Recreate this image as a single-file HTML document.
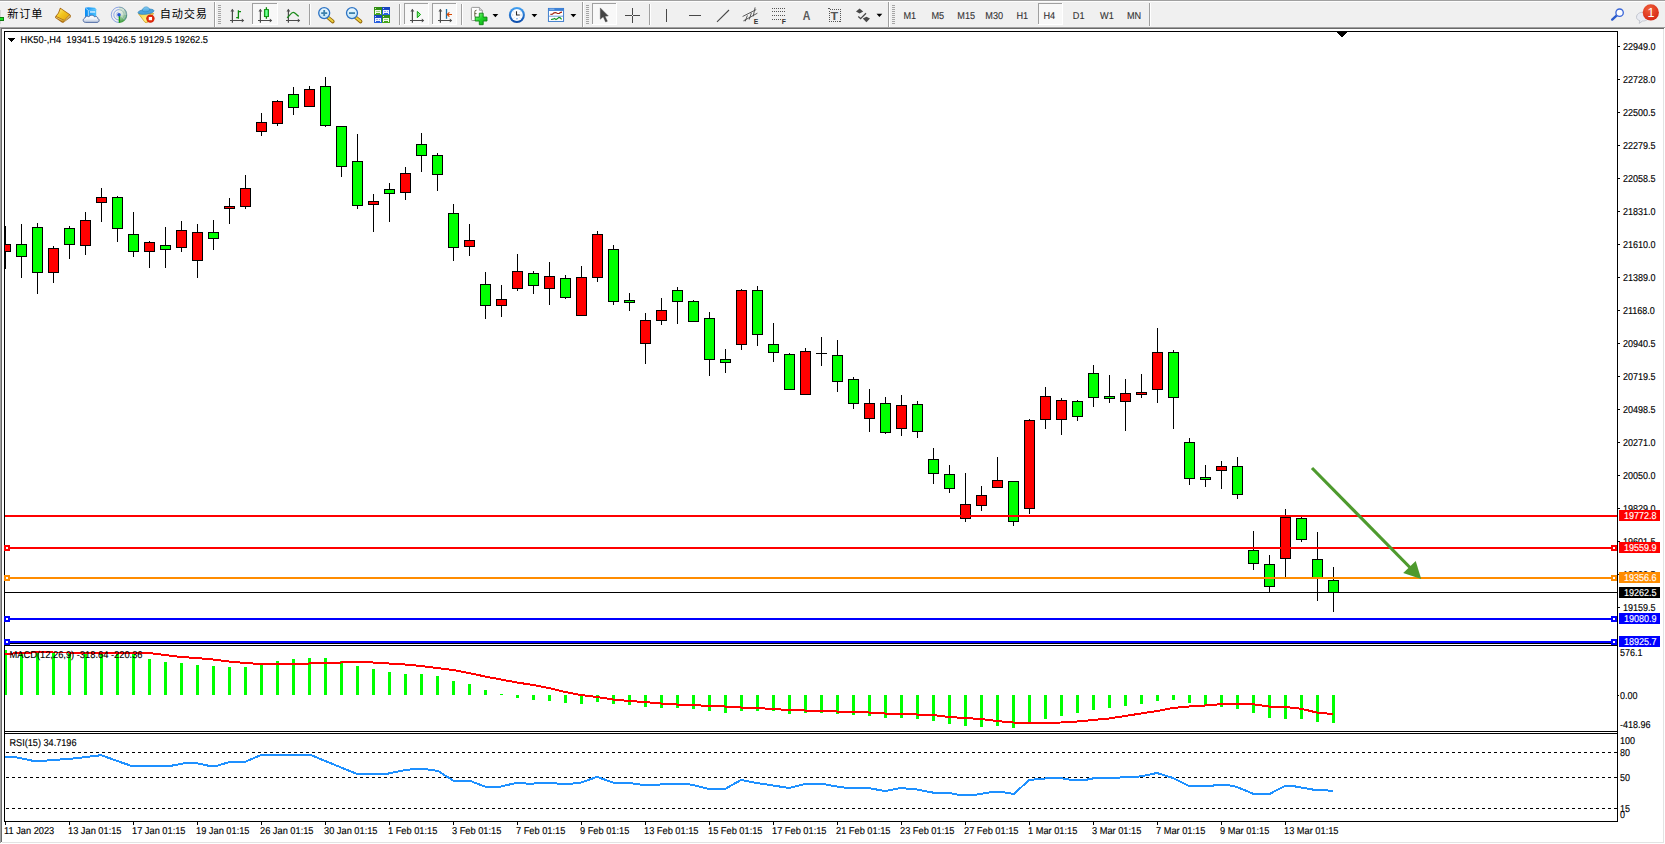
<!DOCTYPE html>
<html lang="zh">
<head>
<meta charset="utf-8">
<title>HK50-,H4</title>
<style>
html,body{margin:0;padding:0;background:#ffffff;}
body{width:1665px;height:844px;overflow:hidden;font-family:"Liberation Sans","Noto Sans CJK SC",sans-serif;}
svg{display:block;}
text{white-space:pre;}
</style>
</head>
<body>
<svg width="1665" height="844" viewBox="0 0 1665 844">
<g shape-rendering="crispEdges">
<rect x="0" y="0" width="1665" height="844" fill="#ffffff"/>
<rect x="0" y="0" width="1665" height="1" fill="#a0a0a0"/>
<rect x="0" y="1" width="1665" height="1" fill="#fdfdfd"/>
<rect x="0" y="2" width="1665" height="25" fill="#f0f0f0"/>
<rect x="0" y="27" width="1665" height="1" fill="#a0a0a0"/>
<rect x="1" y="28" width="1663" height="1" fill="#696969"/>
<rect x="0" y="27" width="1" height="816" fill="#a0a0a0"/>
<rect x="1" y="28" width="1" height="814" fill="#696969"/>
<rect x="1663" y="29" width="1" height="814" fill="#e3e3e3"/>
<rect x="2" y="842" width="1662" height="1" fill="#e3e3e3"/>
<rect x="4" y="31" width="1" height="791" fill="#000"/>
<rect x="4" y="31" width="1614" height="1" fill="#000"/>
<rect x="1617" y="31" width="1" height="791" fill="#000"/>
<rect x="4" y="643" width="1614" height="1" fill="#000"/>
<rect x="4" y="645" width="1614" height="1" fill="#000"/>
<rect x="4" y="731" width="1614" height="1" fill="#000"/>
<rect x="4" y="733" width="1614" height="1" fill="#000"/>
<rect x="4" y="821" width="1614" height="1" fill="#000"/>
</g>
<defs><clipPath id="cm"><rect x="5" y="32" width="1612" height="611"/></clipPath><clipPath id="cd"><rect x="5" y="646" width="1612" height="85"/></clipPath></defs>
<g shape-rendering="crispEdges" clip-path="url(#cm)">
<rect x="5" y="226" width="1" height="43" fill="#000"/>
<rect x="0" y="244" width="11" height="8" fill="#000"/>
<rect x="1" y="245" width="9" height="6" fill="#ff0000"/>
<rect x="21" y="224" width="1" height="54" fill="#000"/>
<rect x="16" y="244" width="11" height="13" fill="#000"/>
<rect x="17" y="245" width="9" height="11" fill="#00ff00"/>
<rect x="37" y="223" width="1" height="71" fill="#000"/>
<rect x="32" y="227" width="11" height="46" fill="#000"/>
<rect x="33" y="228" width="9" height="44" fill="#00ff00"/>
<rect x="53" y="246" width="1" height="37" fill="#000"/>
<rect x="48" y="248" width="11" height="25" fill="#000"/>
<rect x="49" y="249" width="9" height="23" fill="#ff0000"/>
<rect x="69" y="226" width="1" height="33" fill="#000"/>
<rect x="64" y="228" width="11" height="17" fill="#000"/>
<rect x="65" y="229" width="9" height="15" fill="#00ff00"/>
<rect x="85" y="212" width="1" height="43" fill="#000"/>
<rect x="80" y="220" width="11" height="26" fill="#000"/>
<rect x="81" y="221" width="9" height="24" fill="#ff0000"/>
<rect x="101" y="188" width="1" height="34" fill="#000"/>
<rect x="96" y="197" width="11" height="6" fill="#000"/>
<rect x="97" y="198" width="9" height="4" fill="#ff0000"/>
<rect x="117" y="196" width="1" height="46" fill="#000"/>
<rect x="112" y="197" width="11" height="32" fill="#000"/>
<rect x="113" y="198" width="9" height="30" fill="#00ff00"/>
<rect x="133" y="212" width="1" height="45" fill="#000"/>
<rect x="128" y="234" width="11" height="18" fill="#000"/>
<rect x="129" y="235" width="9" height="16" fill="#00ff00"/>
<rect x="149" y="241" width="1" height="27" fill="#000"/>
<rect x="144" y="242" width="11" height="10" fill="#000"/>
<rect x="145" y="243" width="9" height="8" fill="#ff0000"/>
<rect x="165" y="227" width="1" height="41" fill="#000"/>
<rect x="160" y="245" width="11" height="5" fill="#000"/>
<rect x="161" y="246" width="9" height="3" fill="#00ff00"/>
<rect x="181" y="221" width="1" height="31" fill="#000"/>
<rect x="176" y="230" width="11" height="18" fill="#000"/>
<rect x="177" y="231" width="9" height="16" fill="#ff0000"/>
<rect x="197" y="224" width="1" height="54" fill="#000"/>
<rect x="192" y="232" width="11" height="29" fill="#000"/>
<rect x="193" y="233" width="9" height="27" fill="#ff0000"/>
<rect x="213" y="220" width="1" height="30" fill="#000"/>
<rect x="208" y="232" width="11" height="7" fill="#000"/>
<rect x="209" y="233" width="9" height="5" fill="#00ff00"/>
<rect x="229" y="198" width="1" height="26" fill="#000"/>
<rect x="224" y="206" width="11" height="3" fill="#000"/>
<rect x="225" y="207" width="9" height="1" fill="#ff0000"/>
<rect x="245" y="175" width="1" height="34" fill="#000"/>
<rect x="240" y="188" width="11" height="19" fill="#000"/>
<rect x="241" y="189" width="9" height="17" fill="#ff0000"/>
<rect x="261" y="113" width="1" height="23" fill="#000"/>
<rect x="256" y="122" width="11" height="10" fill="#000"/>
<rect x="257" y="123" width="9" height="8" fill="#ff0000"/>
<rect x="277" y="100" width="1" height="26" fill="#000"/>
<rect x="272" y="101" width="11" height="23" fill="#000"/>
<rect x="273" y="102" width="9" height="21" fill="#ff0000"/>
<rect x="293" y="87" width="1" height="28" fill="#000"/>
<rect x="288" y="94" width="11" height="14" fill="#000"/>
<rect x="289" y="95" width="9" height="12" fill="#00ff00"/>
<rect x="309" y="86" width="1" height="21" fill="#000"/>
<rect x="304" y="89" width="11" height="18" fill="#000"/>
<rect x="305" y="90" width="9" height="16" fill="#ff0000"/>
<rect x="325" y="77" width="1" height="50" fill="#000"/>
<rect x="320" y="86" width="11" height="40" fill="#000"/>
<rect x="321" y="87" width="9" height="38" fill="#00ff00"/>
<rect x="341" y="126" width="1" height="51" fill="#000"/>
<rect x="336" y="126" width="11" height="41" fill="#000"/>
<rect x="337" y="127" width="9" height="39" fill="#00ff00"/>
<rect x="357" y="134" width="1" height="75" fill="#000"/>
<rect x="352" y="161" width="11" height="45" fill="#000"/>
<rect x="353" y="162" width="9" height="43" fill="#00ff00"/>
<rect x="373" y="194" width="1" height="38" fill="#000"/>
<rect x="368" y="201" width="11" height="4" fill="#000"/>
<rect x="369" y="202" width="9" height="2" fill="#ff0000"/>
<rect x="389" y="183" width="1" height="39" fill="#000"/>
<rect x="384" y="189" width="11" height="5" fill="#000"/>
<rect x="385" y="190" width="9" height="3" fill="#00ff00"/>
<rect x="405" y="167" width="1" height="33" fill="#000"/>
<rect x="400" y="173" width="11" height="20" fill="#000"/>
<rect x="401" y="174" width="9" height="18" fill="#ff0000"/>
<rect x="421" y="133" width="1" height="39" fill="#000"/>
<rect x="416" y="144" width="11" height="12" fill="#000"/>
<rect x="417" y="145" width="9" height="10" fill="#00ff00"/>
<rect x="437" y="153" width="1" height="38" fill="#000"/>
<rect x="432" y="155" width="11" height="20" fill="#000"/>
<rect x="433" y="156" width="9" height="18" fill="#00ff00"/>
<rect x="453" y="204" width="1" height="57" fill="#000"/>
<rect x="448" y="213" width="11" height="35" fill="#000"/>
<rect x="449" y="214" width="9" height="33" fill="#00ff00"/>
<rect x="469" y="224" width="1" height="32" fill="#000"/>
<rect x="464" y="240" width="11" height="7" fill="#000"/>
<rect x="465" y="241" width="9" height="5" fill="#ff0000"/>
<rect x="485" y="272" width="1" height="47" fill="#000"/>
<rect x="480" y="284" width="11" height="22" fill="#000"/>
<rect x="481" y="285" width="9" height="20" fill="#00ff00"/>
<rect x="501" y="285" width="1" height="32" fill="#000"/>
<rect x="496" y="299" width="11" height="7" fill="#000"/>
<rect x="497" y="300" width="9" height="5" fill="#ff0000"/>
<rect x="517" y="254" width="1" height="37" fill="#000"/>
<rect x="512" y="271" width="11" height="18" fill="#000"/>
<rect x="513" y="272" width="9" height="16" fill="#ff0000"/>
<rect x="533" y="271" width="1" height="23" fill="#000"/>
<rect x="528" y="273" width="11" height="13" fill="#000"/>
<rect x="529" y="274" width="9" height="11" fill="#00ff00"/>
<rect x="549" y="262" width="1" height="43" fill="#000"/>
<rect x="544" y="276" width="11" height="13" fill="#000"/>
<rect x="545" y="277" width="9" height="11" fill="#ff0000"/>
<rect x="565" y="275" width="1" height="24" fill="#000"/>
<rect x="560" y="278" width="11" height="20" fill="#000"/>
<rect x="561" y="279" width="9" height="18" fill="#00ff00"/>
<rect x="581" y="266" width="1" height="50" fill="#000"/>
<rect x="576" y="277" width="11" height="39" fill="#000"/>
<rect x="577" y="278" width="9" height="37" fill="#ff0000"/>
<rect x="597" y="231" width="1" height="51" fill="#000"/>
<rect x="592" y="234" width="11" height="44" fill="#000"/>
<rect x="593" y="235" width="9" height="42" fill="#ff0000"/>
<rect x="613" y="245" width="1" height="60" fill="#000"/>
<rect x="608" y="249" width="11" height="53" fill="#000"/>
<rect x="609" y="250" width="9" height="51" fill="#00ff00"/>
<rect x="629" y="293" width="1" height="18" fill="#000"/>
<rect x="624" y="300" width="11" height="3" fill="#000"/>
<rect x="625" y="301" width="9" height="1" fill="#00ff00"/>
<rect x="645" y="313" width="1" height="51" fill="#000"/>
<rect x="640" y="320" width="11" height="24" fill="#000"/>
<rect x="641" y="321" width="9" height="22" fill="#ff0000"/>
<rect x="661" y="298" width="1" height="27" fill="#000"/>
<rect x="656" y="310" width="11" height="11" fill="#000"/>
<rect x="657" y="311" width="9" height="9" fill="#ff0000"/>
<rect x="677" y="287" width="1" height="37" fill="#000"/>
<rect x="672" y="290" width="11" height="12" fill="#000"/>
<rect x="673" y="291" width="9" height="10" fill="#00ff00"/>
<rect x="693" y="300" width="1" height="22" fill="#000"/>
<rect x="688" y="301" width="11" height="21" fill="#000"/>
<rect x="689" y="302" width="9" height="19" fill="#00ff00"/>
<rect x="709" y="312" width="1" height="64" fill="#000"/>
<rect x="704" y="318" width="11" height="42" fill="#000"/>
<rect x="705" y="319" width="9" height="40" fill="#00ff00"/>
<rect x="725" y="349" width="1" height="24" fill="#000"/>
<rect x="720" y="359" width="11" height="4" fill="#000"/>
<rect x="721" y="360" width="9" height="2" fill="#00ff00"/>
<rect x="741" y="289" width="1" height="61" fill="#000"/>
<rect x="736" y="290" width="11" height="55" fill="#000"/>
<rect x="737" y="291" width="9" height="53" fill="#ff0000"/>
<rect x="757" y="286" width="1" height="60" fill="#000"/>
<rect x="752" y="290" width="11" height="45" fill="#000"/>
<rect x="753" y="291" width="9" height="43" fill="#00ff00"/>
<rect x="773" y="323" width="1" height="39" fill="#000"/>
<rect x="768" y="344" width="11" height="9" fill="#000"/>
<rect x="769" y="345" width="9" height="7" fill="#00ff00"/>
<rect x="789" y="353" width="1" height="37" fill="#000"/>
<rect x="784" y="354" width="11" height="36" fill="#000"/>
<rect x="785" y="355" width="9" height="34" fill="#00ff00"/>
<rect x="805" y="348" width="1" height="47" fill="#000"/>
<rect x="800" y="351" width="11" height="44" fill="#000"/>
<rect x="801" y="352" width="9" height="42" fill="#ff0000"/>
<rect x="821" y="337" width="1" height="29" fill="#000"/>
<rect x="816" y="353" width="11" height="1" fill="#000"/>
<rect x="837" y="340" width="1" height="52" fill="#000"/>
<rect x="832" y="355" width="11" height="27" fill="#000"/>
<rect x="833" y="356" width="9" height="25" fill="#00ff00"/>
<rect x="853" y="377" width="1" height="32" fill="#000"/>
<rect x="848" y="379" width="11" height="25" fill="#000"/>
<rect x="849" y="380" width="9" height="23" fill="#00ff00"/>
<rect x="869" y="389" width="1" height="43" fill="#000"/>
<rect x="864" y="403" width="11" height="16" fill="#000"/>
<rect x="865" y="404" width="9" height="14" fill="#ff0000"/>
<rect x="885" y="397" width="1" height="37" fill="#000"/>
<rect x="880" y="403" width="11" height="30" fill="#000"/>
<rect x="881" y="404" width="9" height="28" fill="#00ff00"/>
<rect x="901" y="395" width="1" height="41" fill="#000"/>
<rect x="896" y="405" width="11" height="24" fill="#000"/>
<rect x="897" y="406" width="9" height="22" fill="#ff0000"/>
<rect x="917" y="401" width="1" height="37" fill="#000"/>
<rect x="912" y="404" width="11" height="28" fill="#000"/>
<rect x="913" y="405" width="9" height="26" fill="#00ff00"/>
<rect x="933" y="448" width="1" height="36" fill="#000"/>
<rect x="928" y="459" width="11" height="15" fill="#000"/>
<rect x="929" y="460" width="9" height="13" fill="#00ff00"/>
<rect x="949" y="465" width="1" height="28" fill="#000"/>
<rect x="944" y="474" width="11" height="15" fill="#000"/>
<rect x="945" y="475" width="9" height="13" fill="#00ff00"/>
<rect x="965" y="473" width="1" height="49" fill="#000"/>
<rect x="960" y="504" width="11" height="15" fill="#000"/>
<rect x="961" y="505" width="9" height="13" fill="#ff0000"/>
<rect x="981" y="486" width="1" height="25" fill="#000"/>
<rect x="976" y="495" width="11" height="11" fill="#000"/>
<rect x="977" y="496" width="9" height="9" fill="#ff0000"/>
<rect x="997" y="457" width="1" height="31" fill="#000"/>
<rect x="992" y="480" width="11" height="8" fill="#000"/>
<rect x="993" y="481" width="9" height="6" fill="#ff0000"/>
<rect x="1013" y="481" width="1" height="45" fill="#000"/>
<rect x="1008" y="481" width="11" height="41" fill="#000"/>
<rect x="1009" y="482" width="9" height="39" fill="#00ff00"/>
<rect x="1029" y="419" width="1" height="95" fill="#000"/>
<rect x="1024" y="420" width="11" height="89" fill="#000"/>
<rect x="1025" y="421" width="9" height="87" fill="#ff0000"/>
<rect x="1045" y="387" width="1" height="42" fill="#000"/>
<rect x="1040" y="396" width="11" height="24" fill="#000"/>
<rect x="1041" y="397" width="9" height="22" fill="#ff0000"/>
<rect x="1061" y="398" width="1" height="37" fill="#000"/>
<rect x="1056" y="400" width="11" height="20" fill="#000"/>
<rect x="1057" y="401" width="9" height="18" fill="#ff0000"/>
<rect x="1077" y="400" width="1" height="21" fill="#000"/>
<rect x="1072" y="401" width="11" height="16" fill="#000"/>
<rect x="1073" y="402" width="9" height="14" fill="#00ff00"/>
<rect x="1093" y="365" width="1" height="42" fill="#000"/>
<rect x="1088" y="373" width="11" height="25" fill="#000"/>
<rect x="1089" y="374" width="9" height="23" fill="#00ff00"/>
<rect x="1109" y="375" width="1" height="28" fill="#000"/>
<rect x="1104" y="396" width="11" height="3" fill="#000"/>
<rect x="1105" y="397" width="9" height="1" fill="#00ff00"/>
<rect x="1125" y="379" width="1" height="52" fill="#000"/>
<rect x="1120" y="393" width="11" height="9" fill="#000"/>
<rect x="1121" y="394" width="9" height="7" fill="#ff0000"/>
<rect x="1141" y="374" width="1" height="24" fill="#000"/>
<rect x="1136" y="392" width="11" height="3" fill="#000"/>
<rect x="1137" y="393" width="9" height="1" fill="#ff0000"/>
<rect x="1157" y="328" width="1" height="75" fill="#000"/>
<rect x="1152" y="352" width="11" height="38" fill="#000"/>
<rect x="1153" y="353" width="9" height="36" fill="#ff0000"/>
<rect x="1173" y="350" width="1" height="79" fill="#000"/>
<rect x="1168" y="352" width="11" height="46" fill="#000"/>
<rect x="1169" y="353" width="9" height="44" fill="#00ff00"/>
<rect x="1189" y="438" width="1" height="47" fill="#000"/>
<rect x="1184" y="442" width="11" height="37" fill="#000"/>
<rect x="1185" y="443" width="9" height="35" fill="#00ff00"/>
<rect x="1205" y="465" width="1" height="22" fill="#000"/>
<rect x="1200" y="477" width="11" height="3" fill="#000"/>
<rect x="1201" y="478" width="9" height="1" fill="#00ff00"/>
<rect x="1221" y="461" width="1" height="28" fill="#000"/>
<rect x="1216" y="466" width="11" height="5" fill="#000"/>
<rect x="1217" y="467" width="9" height="3" fill="#ff0000"/>
<rect x="1237" y="457" width="1" height="42" fill="#000"/>
<rect x="1232" y="466" width="11" height="29" fill="#000"/>
<rect x="1233" y="467" width="9" height="27" fill="#00ff00"/>
<rect x="1253" y="531" width="1" height="39" fill="#000"/>
<rect x="1248" y="550" width="11" height="14" fill="#000"/>
<rect x="1249" y="551" width="9" height="12" fill="#00ff00"/>
<rect x="1269" y="555" width="1" height="38" fill="#000"/>
<rect x="1264" y="564" width="11" height="23" fill="#000"/>
<rect x="1265" y="565" width="9" height="21" fill="#00ff00"/>
<rect x="1285" y="509" width="1" height="68" fill="#000"/>
<rect x="1280" y="517" width="11" height="42" fill="#000"/>
<rect x="1281" y="518" width="9" height="40" fill="#ff0000"/>
<rect x="1301" y="517" width="1" height="25" fill="#000"/>
<rect x="1296" y="518" width="11" height="22" fill="#000"/>
<rect x="1297" y="519" width="9" height="20" fill="#00ff00"/>
<rect x="1317" y="532" width="1" height="69" fill="#000"/>
<rect x="1312" y="559" width="11" height="20" fill="#000"/>
<rect x="1313" y="560" width="9" height="18" fill="#00ff00"/>
<rect x="1333" y="567" width="1" height="45" fill="#000"/>
<rect x="1328" y="580" width="11" height="13" fill="#000"/>
<rect x="1329" y="581" width="9" height="11" fill="#00ff00"/>
</g>
<g shape-rendering="crispEdges">
<rect x="5" y="515" width="1612" height="2" fill="#ff0000"/>
<rect x="5" y="547" width="1612" height="2" fill="#ff0000"/>
<rect x="5" y="577" width="1612" height="2" fill="#ff8c00"/>
<rect x="5" y="618" width="1612" height="2" fill="#0000ff"/>
<rect x="5" y="641" width="1612" height="2" fill="#0000ff"/>
<rect x="5" y="592" width="1612" height="1" fill="#000"/>
</g>
<g><line x1="1312" y1="468" x2="1410" y2="567.5" stroke="#4e9a2e" stroke-width="3.2" stroke-linecap="butt"/><polygon points="1421.2,578.9 1403.2,573 1415.7,561.1" fill="#4e9a2e"/></g>
<g shape-rendering="crispEdges">
<rect x="4" y="545" width="6" height="6" fill="#ff0000"/>
<rect x="6" y="547" width="2" height="2" fill="#fff"/>
<rect x="1611" y="545" width="6" height="6" fill="#ff0000"/>
<rect x="1613" y="547" width="2" height="2" fill="#fff"/>
<rect x="4" y="575" width="6" height="6" fill="#ff8c00"/>
<rect x="6" y="577" width="2" height="2" fill="#fff"/>
<rect x="1611" y="575" width="6" height="6" fill="#ff8c00"/>
<rect x="1613" y="577" width="2" height="2" fill="#fff"/>
<rect x="4" y="616" width="6" height="6" fill="#0000ff"/>
<rect x="6" y="618" width="2" height="2" fill="#fff"/>
<rect x="1611" y="616" width="6" height="6" fill="#0000ff"/>
<rect x="1613" y="618" width="2" height="2" fill="#fff"/>
<rect x="4" y="639" width="6" height="6" fill="#0000ff"/>
<rect x="6" y="641" width="2" height="2" fill="#fff"/>
<rect x="1611" y="639" width="6" height="6" fill="#0000ff"/>
<rect x="1613" y="641" width="2" height="2" fill="#fff"/>
<rect x="1337" y="32" width="10" height="1" fill="#000"/>
<rect x="1338" y="33" width="8" height="1" fill="#000"/>
<rect x="1339" y="34" width="6" height="1" fill="#000"/>
<rect x="1340" y="35" width="4" height="1" fill="#000"/>
<rect x="1341" y="36" width="2" height="1" fill="#000"/>
<rect x="8" y="38" width="7" height="1" fill="#000"/>
<rect x="9" y="39" width="5" height="1" fill="#000"/>
<rect x="10" y="40" width="3" height="1" fill="#000"/>
<rect x="11" y="41" width="1" height="1" fill="#000"/>
</g>
<g shape-rendering="crispEdges" clip-path="url(#cd)">
<rect x="4" y="650" width="3" height="45" fill="#00ff00"/>
<rect x="20" y="652" width="3" height="43" fill="#00ff00"/>
<rect x="36" y="652" width="3" height="43" fill="#00ff00"/>
<rect x="52" y="652" width="3" height="43" fill="#00ff00"/>
<rect x="68" y="652" width="3" height="43" fill="#00ff00"/>
<rect x="84" y="652" width="3" height="43" fill="#00ff00"/>
<rect x="100" y="652" width="3" height="43" fill="#00ff00"/>
<rect x="116" y="652" width="3" height="43" fill="#00ff00"/>
<rect x="132" y="652" width="3" height="43" fill="#00ff00"/>
<rect x="148" y="659" width="3" height="36" fill="#00ff00"/>
<rect x="164" y="662" width="3" height="33" fill="#00ff00"/>
<rect x="180" y="663" width="3" height="32" fill="#00ff00"/>
<rect x="196" y="665" width="3" height="30" fill="#00ff00"/>
<rect x="212" y="666" width="3" height="29" fill="#00ff00"/>
<rect x="228" y="667" width="3" height="28" fill="#00ff00"/>
<rect x="244" y="667" width="3" height="28" fill="#00ff00"/>
<rect x="260" y="664" width="3" height="31" fill="#00ff00"/>
<rect x="276" y="661" width="3" height="34" fill="#00ff00"/>
<rect x="292" y="659" width="3" height="36" fill="#00ff00"/>
<rect x="308" y="658" width="3" height="37" fill="#00ff00"/>
<rect x="324" y="658" width="3" height="37" fill="#00ff00"/>
<rect x="340" y="661" width="3" height="34" fill="#00ff00"/>
<rect x="356" y="666" width="3" height="29" fill="#00ff00"/>
<rect x="372" y="669" width="3" height="26" fill="#00ff00"/>
<rect x="388" y="672" width="3" height="23" fill="#00ff00"/>
<rect x="404" y="674" width="3" height="21" fill="#00ff00"/>
<rect x="420" y="674" width="3" height="21" fill="#00ff00"/>
<rect x="436" y="676" width="3" height="19" fill="#00ff00"/>
<rect x="452" y="681" width="3" height="14" fill="#00ff00"/>
<rect x="468" y="684" width="3" height="11" fill="#00ff00"/>
<rect x="484" y="690" width="3" height="5" fill="#00ff00"/>
<rect x="500" y="694" width="3" height="1" fill="#00ff00"/>
<rect x="516" y="695" width="3" height="3" fill="#00ff00"/>
<rect x="532" y="695" width="3" height="5" fill="#00ff00"/>
<rect x="548" y="695" width="3" height="6" fill="#00ff00"/>
<rect x="564" y="695" width="3" height="8" fill="#00ff00"/>
<rect x="580" y="695" width="3" height="9" fill="#00ff00"/>
<rect x="596" y="695" width="3" height="7" fill="#00ff00"/>
<rect x="612" y="695" width="3" height="9" fill="#00ff00"/>
<rect x="628" y="695" width="3" height="10" fill="#00ff00"/>
<rect x="644" y="695" width="3" height="12" fill="#00ff00"/>
<rect x="660" y="695" width="3" height="13" fill="#00ff00"/>
<rect x="676" y="695" width="3" height="13" fill="#00ff00"/>
<rect x="692" y="695" width="3" height="14" fill="#00ff00"/>
<rect x="708" y="695" width="3" height="16" fill="#00ff00"/>
<rect x="724" y="695" width="3" height="18" fill="#00ff00"/>
<rect x="740" y="695" width="3" height="16" fill="#00ff00"/>
<rect x="756" y="695" width="3" height="16" fill="#00ff00"/>
<rect x="772" y="695" width="3" height="16" fill="#00ff00"/>
<rect x="788" y="695" width="3" height="19" fill="#00ff00"/>
<rect x="804" y="695" width="3" height="18" fill="#00ff00"/>
<rect x="820" y="695" width="3" height="18" fill="#00ff00"/>
<rect x="836" y="695" width="3" height="19" fill="#00ff00"/>
<rect x="852" y="695" width="3" height="20" fill="#00ff00"/>
<rect x="868" y="695" width="3" height="21" fill="#00ff00"/>
<rect x="884" y="695" width="3" height="23" fill="#00ff00"/>
<rect x="900" y="695" width="3" height="23" fill="#00ff00"/>
<rect x="916" y="695" width="3" height="24" fill="#00ff00"/>
<rect x="932" y="695" width="3" height="26" fill="#00ff00"/>
<rect x="948" y="695" width="3" height="29" fill="#00ff00"/>
<rect x="964" y="695" width="3" height="31" fill="#00ff00"/>
<rect x="980" y="695" width="3" height="32" fill="#00ff00"/>
<rect x="996" y="695" width="3" height="31" fill="#00ff00"/>
<rect x="1012" y="695" width="3" height="33" fill="#00ff00"/>
<rect x="1028" y="695" width="3" height="27" fill="#00ff00"/>
<rect x="1044" y="695" width="3" height="24" fill="#00ff00"/>
<rect x="1060" y="695" width="3" height="21" fill="#00ff00"/>
<rect x="1076" y="695" width="3" height="18" fill="#00ff00"/>
<rect x="1092" y="695" width="3" height="15" fill="#00ff00"/>
<rect x="1108" y="695" width="3" height="13" fill="#00ff00"/>
<rect x="1124" y="695" width="3" height="11" fill="#00ff00"/>
<rect x="1140" y="695" width="3" height="9" fill="#00ff00"/>
<rect x="1156" y="695" width="3" height="6" fill="#00ff00"/>
<rect x="1172" y="695" width="3" height="5" fill="#00ff00"/>
<rect x="1188" y="695" width="3" height="8" fill="#00ff00"/>
<rect x="1204" y="695" width="3" height="10" fill="#00ff00"/>
<rect x="1220" y="695" width="3" height="12" fill="#00ff00"/>
<rect x="1236" y="695" width="3" height="14" fill="#00ff00"/>
<rect x="1252" y="695" width="3" height="18" fill="#00ff00"/>
<rect x="1268" y="695" width="3" height="23" fill="#00ff00"/>
<rect x="1284" y="695" width="3" height="24" fill="#00ff00"/>
<rect x="1300" y="695" width="3" height="24" fill="#00ff00"/>
<rect x="1316" y="695" width="3" height="27" fill="#00ff00"/>
<rect x="1332" y="695" width="3" height="28" fill="#00ff00"/>
<polyline points="5,654 21,653 37,652.3 53,652.5 69,652.5 85,652.5 101,652.5 117,652.5 133,652.5 149,653 165,655 181,657 197,658 213,659.5 229,661.5 245,663 261,664 277,664 293,664 309,663.5 325,663 341,662.5 357,662 373,662.5 389,663.5 405,664.5 421,666 437,668 453,670 469,673 485,676.5 501,679.5 517,682.5 533,685 549,688 565,692 581,695 597,697 613,699.5 629,701 645,702 661,703.5 677,704.5 693,705 709,706 725,706.5 741,707.5 757,708 773,709 789,710 805,710.5 821,710.5 837,711.5 853,712 869,712.5 885,713.5 901,714 917,714.5 933,715 949,717 965,718 981,719 997,721 1013,722.5 1029,722.7 1045,722.7 1061,722.5 1077,721.5 1093,720 1109,718.5 1125,716 1141,713.5 1157,711 1173,708 1189,706.5 1205,705.5 1221,704.2 1237,704.2 1253,704.2 1269,706.5 1285,707 1301,708.7 1317,712.6 1333,714" fill="none" stroke="#ff0000" stroke-width="2"/>
</g>
<g shape-rendering="crispEdges">
<line x1="6" y1="752.5" x2="1617" y2="752.5" stroke="#000" stroke-width="1" stroke-dasharray="3 3"/>
<line x1="6" y1="777.5" x2="1617" y2="777.5" stroke="#000" stroke-width="1" stroke-dasharray="3 3"/>
<line x1="6" y1="808.5" x2="1617" y2="808.5" stroke="#000" stroke-width="1" stroke-dasharray="3 3"/>
<polyline points="5,756.5 16,757.3 33,760.8 43,760.8 76,758.3 101,755.2 131,765.8 171,765.8 184,763.3 197,763.3 209,765.8 217,765.8 230,761.8 245,761.8 262,754.7 310,754.7 356,773.6 388,773.6 406,769.9 415,769.1 425,769.1 438,770.9 453,780.5 469,780.5 485,786.5 501,786.5 516,783 526,783.5 534,783.5 549,782.5 565,784.5 581,782.5 597,776.9 613,782.5 629,783 640,784.5 660,784.5 665,783.5 685,783.5 693,785 709,789 725,789 741,780 757,783 773,785.5 789,788 805,784 820,783.5 837,786.5 848,788 868,788 885,791 901,788 917,789.5 933,792.6 949,793 960,795 974,795 992,792 1002,792 1014,794 1029,780 1050,778 1060,778 1072,780 1085,780 1095,778 1125,777.4 1141,776.4 1157,773 1173,778 1189,786 1209,786 1221,784.7 1226,784.7 1237,787 1253,793.7 1270,793.7 1285,785.9 1292,785.9 1301,787.5 1317,790.3 1333,790.6" fill="none" stroke="#1e90ff" stroke-width="2"/>
</g>
<g shape-rendering="crispEdges">
<rect x="1618" y="46" width="2" height="1" fill="#000"/>
<rect x="1618" y="79" width="2" height="1" fill="#000"/>
<rect x="1618" y="112" width="2" height="1" fill="#000"/>
<rect x="1618" y="145" width="2" height="1" fill="#000"/>
<rect x="1618" y="178" width="2" height="1" fill="#000"/>
<rect x="1618" y="211" width="2" height="1" fill="#000"/>
<rect x="1618" y="244" width="2" height="1" fill="#000"/>
<rect x="1618" y="277" width="2" height="1" fill="#000"/>
<rect x="1618" y="310" width="2" height="1" fill="#000"/>
<rect x="1618" y="343" width="2" height="1" fill="#000"/>
<rect x="1618" y="376" width="2" height="1" fill="#000"/>
<rect x="1618" y="409" width="2" height="1" fill="#000"/>
<rect x="1618" y="442" width="2" height="1" fill="#000"/>
<rect x="1618" y="475" width="2" height="1" fill="#000"/>
<rect x="1618" y="508" width="2" height="1" fill="#000"/>
<rect x="1618" y="541" width="2" height="1" fill="#000"/>
<rect x="1618" y="574" width="2" height="1" fill="#000"/>
<rect x="1618" y="607" width="2" height="1" fill="#000"/>
<rect x="1618" y="695" width="1" height="1" fill="#000"/>
<rect x="5" y="822" width="1" height="3" fill="#000"/>
<rect x="69" y="822" width="1" height="3" fill="#000"/>
<rect x="133" y="822" width="1" height="3" fill="#000"/>
<rect x="197" y="822" width="1" height="3" fill="#000"/>
<rect x="261" y="822" width="1" height="3" fill="#000"/>
<rect x="325" y="822" width="1" height="3" fill="#000"/>
<rect x="389" y="822" width="1" height="3" fill="#000"/>
<rect x="453" y="822" width="1" height="3" fill="#000"/>
<rect x="517" y="822" width="1" height="3" fill="#000"/>
<rect x="581" y="822" width="1" height="3" fill="#000"/>
<rect x="645" y="822" width="1" height="3" fill="#000"/>
<rect x="709" y="822" width="1" height="3" fill="#000"/>
<rect x="773" y="822" width="1" height="3" fill="#000"/>
<rect x="837" y="822" width="1" height="3" fill="#000"/>
<rect x="901" y="822" width="1" height="3" fill="#000"/>
<rect x="965" y="822" width="1" height="3" fill="#000"/>
<rect x="1029" y="822" width="1" height="3" fill="#000"/>
<rect x="1093" y="822" width="1" height="3" fill="#000"/>
<rect x="1157" y="822" width="1" height="3" fill="#000"/>
<rect x="1221" y="822" width="1" height="3" fill="#000"/>
<rect x="1285" y="822" width="1" height="3" fill="#000"/>
</g>
<g font-family="'Liberation Sans', sans-serif" text-rendering="geometricPrecision" stroke="#000" stroke-width="0.14">
<text transform="translate(1623,49.9) scale(0.9,1)" font-size="10px" fill="#000">22949.0</text>
<text transform="translate(1623,82.9) scale(0.9,1)" font-size="10px" fill="#000">22728.0</text>
<text transform="translate(1623,115.9) scale(0.9,1)" font-size="10px" fill="#000">22500.5</text>
<text transform="translate(1623,148.9) scale(0.9,1)" font-size="10px" fill="#000">22279.5</text>
<text transform="translate(1623,181.9) scale(0.9,1)" font-size="10px" fill="#000">22058.5</text>
<text transform="translate(1623,214.9) scale(0.9,1)" font-size="10px" fill="#000">21831.0</text>
<text transform="translate(1623,247.9) scale(0.9,1)" font-size="10px" fill="#000">21610.0</text>
<text transform="translate(1623,280.9) scale(0.9,1)" font-size="10px" fill="#000">21389.0</text>
<text transform="translate(1623,313.9) scale(0.9,1)" font-size="10px" fill="#000">21168.0</text>
<text transform="translate(1623,346.9) scale(0.9,1)" font-size="10px" fill="#000">20940.5</text>
<text transform="translate(1623,379.9) scale(0.9,1)" font-size="10px" fill="#000">20719.5</text>
<text transform="translate(1623,412.9) scale(0.9,1)" font-size="10px" fill="#000">20498.5</text>
<text transform="translate(1623,445.9) scale(0.9,1)" font-size="10px" fill="#000">20271.0</text>
<text transform="translate(1623,478.9) scale(0.9,1)" font-size="10px" fill="#000">20050.0</text>
<text transform="translate(1623,511.9) scale(0.9,1)" font-size="10px" fill="#000">19829.0</text>
<text transform="translate(1623,544.9) scale(0.9,1)" font-size="10px" fill="#000">19601.5</text>
<text transform="translate(1623,577.9) scale(0.9,1)" font-size="10px" fill="#000">19380.5</text>
<text transform="translate(1623,610.9) scale(0.9,1)" font-size="10px" fill="#000">19159.5</text>
<text transform="translate(1620,655.9) scale(0.9,1)" font-size="10px" fill="#000">576.1</text>
<text transform="translate(1620,698.9) scale(0.9,1)" font-size="10px" fill="#000">0.00</text>
<text transform="translate(1620,727.9) scale(0.9,1)" font-size="10px" fill="#000">-418.96</text>
<text transform="translate(1620,743.9) scale(0.9,1)" font-size="10px" fill="#000">100</text>
<text transform="translate(1620,755.9) scale(0.9,1)" font-size="10px" fill="#000">80</text>
<text transform="translate(1620,780.9) scale(0.9,1)" font-size="10px" fill="#000">50</text>
<text transform="translate(1620,811.9) scale(0.9,1)" font-size="10px" fill="#000">15</text>
<text transform="translate(1620,817.9) scale(0.9,1)" font-size="10px" fill="#000">0</text>
<text transform="translate(4,833.9) scale(0.925,1)" font-size="10px" fill="#000">11 Jan 2023</text>
<text transform="translate(68,833.9) scale(0.925,1)" font-size="10px" fill="#000">13 Jan 01:15</text>
<text transform="translate(132,833.9) scale(0.925,1)" font-size="10px" fill="#000">17 Jan 01:15</text>
<text transform="translate(196,833.9) scale(0.925,1)" font-size="10px" fill="#000">19 Jan 01:15</text>
<text transform="translate(260,833.9) scale(0.925,1)" font-size="10px" fill="#000">26 Jan 01:15</text>
<text transform="translate(324,833.9) scale(0.925,1)" font-size="10px" fill="#000">30 Jan 01:15</text>
<text transform="translate(388,833.9) scale(0.925,1)" font-size="10px" fill="#000">1 Feb 01:15</text>
<text transform="translate(452,833.9) scale(0.925,1)" font-size="10px" fill="#000">3 Feb 01:15</text>
<text transform="translate(516,833.9) scale(0.925,1)" font-size="10px" fill="#000">7 Feb 01:15</text>
<text transform="translate(580,833.9) scale(0.925,1)" font-size="10px" fill="#000">9 Feb 01:15</text>
<text transform="translate(644,833.9) scale(0.925,1)" font-size="10px" fill="#000">13 Feb 01:15</text>
<text transform="translate(708,833.9) scale(0.925,1)" font-size="10px" fill="#000">15 Feb 01:15</text>
<text transform="translate(772,833.9) scale(0.925,1)" font-size="10px" fill="#000">17 Feb 01:15</text>
<text transform="translate(836,833.9) scale(0.925,1)" font-size="10px" fill="#000">21 Feb 01:15</text>
<text transform="translate(900,833.9) scale(0.925,1)" font-size="10px" fill="#000">23 Feb 01:15</text>
<text transform="translate(964,833.9) scale(0.925,1)" font-size="10px" fill="#000">27 Feb 01:15</text>
<text transform="translate(1028,833.9) scale(0.925,1)" font-size="10px" fill="#000">1 Mar 01:15</text>
<text transform="translate(1092,833.9) scale(0.925,1)" font-size="10px" fill="#000">3 Mar 01:15</text>
<text transform="translate(1156,833.9) scale(0.925,1)" font-size="10px" fill="#000">7 Mar 01:15</text>
<text transform="translate(1220,833.9) scale(0.925,1)" font-size="10px" fill="#000">9 Mar 01:15</text>
<text transform="translate(1284,833.9) scale(0.925,1)" font-size="10px" fill="#000">13 Mar 01:15</text>
<text x="20.5" y="43" font-size="10px" fill="#000" textLength="187.5" lengthAdjust="spacingAndGlyphs">HK50-,H4  19341.5 19426.5 19129.5 19262.5</text>
<text x="9.5" y="658" font-size="10px" fill="#000" textLength="133" lengthAdjust="spacingAndGlyphs">MACD(12,26,9) -318.64 -220.36</text>
<text x="9.5" y="746" font-size="10px" fill="#000" textLength="67" lengthAdjust="spacingAndGlyphs">RSI(15) 34.7196</text>
</g>
<g shape-rendering="crispEdges">
<rect x="1619" y="510" width="41" height="11" fill="#ff0000"/>
<rect x="1619" y="542" width="41" height="11" fill="#ff0000"/>
<rect x="1619" y="572" width="41" height="11" fill="#ff8c00"/>
<rect x="1619" y="587" width="41" height="11" fill="#000000"/>
<rect x="1619" y="613" width="41" height="11" fill="#0000ff"/>
<rect x="1619" y="636" width="41" height="11" fill="#0000ff"/>
</g>
<g font-family="'Liberation Sans', sans-serif" text-rendering="geometricPrecision" stroke="#fff" stroke-width="0.14">
<text transform="translate(1624,518.9) scale(0.9,1)" font-size="10px" fill="#fff">19772.8</text>
<text transform="translate(1624,550.9) scale(0.9,1)" font-size="10px" fill="#fff">19559.9</text>
<text transform="translate(1624,580.9) scale(0.9,1)" font-size="10px" fill="#fff">19356.6</text>
<text transform="translate(1624,595.9) scale(0.9,1)" font-size="10px" fill="#fff">19262.5</text>
<text transform="translate(1624,621.9) scale(0.9,1)" font-size="10px" fill="#fff">19080.9</text>
<text transform="translate(1624,644.9) scale(0.9,1)" font-size="10px" fill="#fff">18925.7</text>
</g>
<defs>
<linearGradient id="gBook" x1="0" y1="0" x2="1" y2="1"><stop offset="0" stop-color="#fff08a"/><stop offset="0.45" stop-color="#f2c61e"/><stop offset="1" stop-color="#e0a010"/></linearGradient>
<linearGradient id="gSpine" x1="0" y1="0" x2="0" y2="1"><stop offset="0" stop-color="#f8e08a"/><stop offset="1" stop-color="#c48a14"/></linearGradient>
<linearGradient id="gSrv" x1="0" y1="0" x2="1" y2="0"><stop offset="0" stop-color="#0a8cf4"/><stop offset="1" stop-color="#4cc0fc"/></linearGradient>
<linearGradient id="gCloud" x1="0" y1="0" x2="0" y2="1"><stop offset="0" stop-color="#ffffff"/><stop offset="0.5" stop-color="#f0f3f9"/><stop offset="1" stop-color="#b4c2da"/></linearGradient>
<linearGradient id="gLens" x1="0" y1="0" x2="0" y2="1"><stop offset="0" stop-color="#eefaff"/><stop offset="1" stop-color="#bfe4f8"/></linearGradient>
<linearGradient id="gHat" x1="0" y1="0" x2="0" y2="1"><stop offset="0" stop-color="#86cdf2"/><stop offset="1" stop-color="#46a0dc"/></linearGradient>
<linearGradient id="gFace" x1="0" y1="0" x2="1" y2="1"><stop offset="0" stop-color="#f6d040"/><stop offset="0.6" stop-color="#fff080"/><stop offset="1" stop-color="#e8b820"/></linearGradient>
<radialGradient id="gBadge" cx="0.4" cy="0.3" r="0.8"><stop offset="0" stop-color="#f0603a"/><stop offset="1" stop-color="#d42010"/></radialGradient>
<radialGradient id="gStop" cx="0.5" cy="0.5" r="0.6"><stop offset="0" stop-color="#ff4010"/><stop offset="1" stop-color="#c81808"/></radialGradient>
<linearGradient id="gClock" x1="0" y1="0" x2="0" y2="1"><stop offset="0" stop-color="#46a4f4"/><stop offset="1" stop-color="#0a48a8"/></linearGradient>
<linearGradient id="gSweep" x1="0" y1="1" x2="0.3" y2="0"><stop offset="0" stop-color="#2a9a2a" stop-opacity="0.85"/><stop offset="0.3" stop-color="#7cc07c" stop-opacity="0.55"/><stop offset="1" stop-color="#d4ead4" stop-opacity="0.4"/></linearGradient>
<linearGradient id="gPlus" x1="0" y1="0" x2="1" y2="1"><stop offset="0" stop-color="#8cff8c"/><stop offset="0.5" stop-color="#20d428"/><stop offset="1" stop-color="#0aa014"/></linearGradient>
<linearGradient id="gCandle" x1="0" y1="0" x2="1" y2="0"><stop offset="0" stop-color="#10d840"/><stop offset="0.5" stop-color="#7cff98"/><stop offset="1" stop-color="#10d840"/></linearGradient>
<linearGradient id="gTG" x1="0" y1="0" x2="0" y2="1"><stop offset="0" stop-color="#2c8a12"/><stop offset="1" stop-color="#46a81c"/></linearGradient>
<linearGradient id="gTB" x1="0" y1="0" x2="0" y2="1"><stop offset="0" stop-color="#1440b8"/><stop offset="1" stop-color="#2c64e4"/></linearGradient>
<radialGradient id="gW1" gradientUnits="userSpaceOnUse" cx="119.2" cy="14.8" r="8.1"><stop offset="0" stop-color="#2f9a2f" stop-opacity="0.25"/><stop offset="0.6" stop-color="#2f9a2f" stop-opacity="0.6"/><stop offset="1" stop-color="#2a922a" stop-opacity="0.95"/></radialGradient>
<radialGradient id="gW2" gradientUnits="userSpaceOnUse" cx="119.2" cy="14.8" r="8.1"><stop offset="0" stop-color="#5fb05f" stop-opacity="0.15"/><stop offset="0.6" stop-color="#5fb05f" stop-opacity="0.45"/><stop offset="1" stop-color="#4a9a5a" stop-opacity="0.85"/></radialGradient>
<radialGradient id="gW3" gradientUnits="userSpaceOnUse" cx="119.2" cy="14.8" r="8.1"><stop offset="0" stop-color="#8cc48c" stop-opacity="0.1"/><stop offset="0.6" stop-color="#8cc48c" stop-opacity="0.35"/><stop offset="1" stop-color="#7ab08a" stop-opacity="0.7"/></radialGradient>
<radialGradient id="gW4" gradientUnits="userSpaceOnUse" cx="119.2" cy="14.8" r="8.1"><stop offset="0" stop-color="#bcdcbc" stop-opacity="0.1"/><stop offset="0.6" stop-color="#bcdcbc" stop-opacity="0.3"/><stop offset="1" stop-color="#a8ccb0" stop-opacity="0.6"/></radialGradient>
</defs>
<g shape-rendering="crispEdges"><rect x="0" y="10" width="1" height="14" fill="#d6d6d6"/><rect x="0" y="17" width="4" height="4" fill="#0e7a0e"/><rect x="0" y="18" width="3" height="2" fill="#14e024"/></g>
<text x="7.2" y="18.2" font-family="'Liberation Sans','Noto Sans CJK SC',sans-serif" font-size="11.2px" letter-spacing="0.8" fill="#000">新订单</text>
<g><path d="M60.7 7.9L69.9 14.2Q71.6 15.6 70.7 17.2L63.7 22.6Q62.8 23.1 61.8 22.5L55.4 18Q54.6 17.1 55.4 16.2Q58.8 13 59.6 8.8Q59.9 7.6 60.7 7.9Z" fill="#a8680e"/><path d="M60.9 8.9L69.3 14.7L64.4 20.1L56.4 16.3Q59.6 13 60.4 9.2Z" fill="url(#gBook)"/><path d="M56.1 16.9L64.2 20.6L63.1 21.9L55.9 17.5Z" fill="url(#gSpine)"/><path d="M64.7 20.4L69.6 15.2L70.3 16.6L63.9 21.9Z" fill="#e6d9a0"/><path d="M65 21L70 16" stroke="#b48a30" stroke-width="0.5"/></g>
<g><path d="M85 7.7L88.4 7.2L95 7.7L96.2 9.2V17H85Z" fill="url(#gSrv)"/><path d="M85.3 7.9L88.4 10.4V17" stroke="#d4eeff" stroke-width="0.7" fill="none"/><path d="M88.4 10.4L96 9.6" stroke="#8fd4ff" stroke-width="0.5" fill="none"/><rect x="90" y="11.3" width="5.2" height="1.3" fill="#e4f4ff"/><path d="M85.6 22.4C82.6 22.4 82.4 18.6 85 18C85 16.2 87.6 15.6 88.8 16.8C89.8 14.8 93.6 14.6 94.6 16.9C96.2 15.9 98 17 97.8 18.6C99.8 19 99.6 22.4 97 22.4Z" fill="url(#gCloud)" stroke="#46639e" stroke-width="0.9"/></g>
<g fill="none"><path d="M119.2 14.8L119.2 22.9A8.1 8.1 0 0 0 124.93 20.53Z" fill="url(#gW1)"/><path d="M119.2 14.8L124.93 20.53A8.1 8.1 0 0 0 127.3 14.8Z" fill="url(#gW2)"/><path d="M119.2 14.8L127.3 14.8A8.1 8.1 0 0 0 124.93 9.07Z" fill="url(#gW3)"/><path d="M119.2 14.8L124.93 9.07A8.1 8.1 0 0 0 119.2 6.7Z" fill="url(#gW4)"/><path d="M119 22.5A7.7 7.7 0 0 1 119 7.1" stroke="#4a72d8" stroke-opacity="0.6" stroke-width="1"/><path d="M119 20A5.2 5.2 0 0 1 119 9.6" stroke="#4a72d8" stroke-opacity="0.6" stroke-width="1"/><path d="M119 17.6A2.8 2.8 0 0 1 119 12" stroke="#6a8ce0" stroke-opacity="0.5" stroke-width="0.8"/><path d="M119 7.1A7.7 7.7 0 0 1 124.4 20.2" stroke="#3a6a9a" stroke-opacity="0.55" stroke-width="1"/><path d="M119 9.6A5.2 5.2 0 0 1 122.7 18.5" stroke="#4a8a8a" stroke-opacity="0.45" stroke-width="0.9"/><path d="M119.4 15V22.7" stroke="#18a018" stroke-width="1.4"/><circle cx="119" cy="14.7" r="1.8" fill="#2456d0"/></g>
<g><path d="M138.4 13.6L153.6 13.4L147.6 22.3Q146.3 22.9 145 22.3Z" fill="url(#gFace)" stroke="#c8940f" stroke-width="0.7" stroke-linejoin="round"/><ellipse cx="146" cy="11.7" rx="8" ry="2.5" transform="rotate(-7 146 11.7)" fill="#4aa2dc" stroke="#2c82ba" stroke-width="0.7"/><path d="M142.4 11C142.2 5.6 149.8 5.6 149.6 10.4C147.6 12.2 144.2 12.4 142.4 11Z" fill="url(#gHat)" stroke="#2c82ba" stroke-width="0.5"/><circle cx="150.4" cy="18.6" r="4.2" fill="url(#gStop)"/><rect x="148.8" y="17" width="3.2" height="3.2" fill="#ffffff"/></g>
<text x="159.8" y="18.2" font-family="'Liberation Sans','Noto Sans CJK SC',sans-serif" font-size="11.2px" letter-spacing="0.8" fill="#000">自动交易</text>
<rect x="214" y="2" width="1" height="25" fill="#a0a0a0" shape-rendering="crispEdges"/><rect x="215" y="2" width="1" height="25" fill="#ffffff" shape-rendering="crispEdges"/>
<g shape-rendering="crispEdges" fill="#a4a4a4">
<rect x="218" y="5" width="3" height="1"/>
<rect x="218" y="7" width="3" height="1"/>
<rect x="218" y="9" width="3" height="1"/>
<rect x="218" y="11" width="3" height="1"/>
<rect x="218" y="13" width="3" height="1"/>
<rect x="218" y="15" width="3" height="1"/>
<rect x="218" y="17" width="3" height="1"/>
<rect x="218" y="19" width="3" height="1"/>
<rect x="218" y="21" width="3" height="1"/>
<rect x="218" y="23" width="3" height="1"/>
</g>
<g stroke="#4a4a4a" stroke-width="1.2" fill="none"><path d="M232.4 9.6V22.8M230 20.5H243.2"/></g><polygon points="230.5,11.4 232.4,8.8 234.3,11.4" fill="#4a4a4a"/><polygon points="241.8,18.6 244.2,20.5 241.8,22.4" fill="#4a4a4a"/>
<path d="M238.4 10.2V18.8M238.4 11.6H241M236.2 17.7H238.4" stroke="#0c8a0c" stroke-width="1.3" fill="none"/>
<g shape-rendering="crispEdges"><rect x="252" y="3" width="26" height="22" fill="#f8f8f8"/><rect x="252" y="3" width="26" height="1" fill="#a0a0a0"/><rect x="252" y="3" width="1" height="22" fill="#a0a0a0"/><rect x="252" y="24" width="26" height="1" fill="#ffffff"/><rect x="277" y="3" width="1" height="22" fill="#ffffff"/></g>
<g stroke="#4a4a4a" stroke-width="1.2" fill="none"><path d="M260.4 9.6V22.8M258 20.5H271.2"/></g><polygon points="258.5,11.4 260.4,8.8 262.29999999999995,11.4" fill="#4a4a4a"/><polygon points="269.8,18.6 272.2,20.5 269.8,22.4" fill="#4a4a4a"/>
<path d="M266.4 7.2V18.8" stroke="#0a8a0a" stroke-width="1.3"/><rect x="264.4" y="9.6" width="4.1" height="7" fill="url(#gCandle)" stroke="#0a8a0a" stroke-width="0.9"/>
<g stroke="#4a4a4a" stroke-width="1.2" fill="none"><path d="M288.4 9.6V22.8M286 20.5H299.2"/></g><polygon points="286.5,11.4 288.4,8.8 290.29999999999995,11.4" fill="#4a4a4a"/><polygon points="297.8,18.6 300.2,20.5 297.8,22.4" fill="#4a4a4a"/>
<path d="M287 17.7C289.5 16.4 291 12.3 293.2 12.3C295.4 12.3 296.6 15.4 298.9 16.3" stroke="#1a8a1a" stroke-width="1.2" fill="none"/>
<rect x="309" y="4" width="1" height="21" fill="#a0a0a0" shape-rendering="crispEdges"/><rect x="310" y="4" width="1" height="21" fill="#ffffff" shape-rendering="crispEdges"/>
<g><path d="M327.8 17.3L332.8 21.5" stroke="#96680c" stroke-width="3.6" stroke-linecap="round"/><path d="M328.4 17.8L332.59999999999997 21.299999999999997" stroke="#ecd040" stroke-width="2" stroke-linecap="round"/><circle cx="324.2" cy="13.1" r="5.5" fill="url(#gLens)" stroke="#2e74c4" stroke-width="1.3"/><path d="M321.2 13.1H327.2M324.2 10.1V16.1" stroke="#3c82ac" stroke-width="1.8"/></g>
<g><path d="M355.6 17.3L360.6 21.5" stroke="#96680c" stroke-width="3.6" stroke-linecap="round"/><path d="M356.2 17.8L360.4 21.299999999999997" stroke="#ecd040" stroke-width="2" stroke-linecap="round"/><circle cx="352" cy="13.1" r="5.5" fill="url(#gLens)" stroke="#2e74c4" stroke-width="1.3"/><path d="M349 13.1H355" stroke="#3c82ac" stroke-width="1.8"/></g>
<g shape-rendering="crispEdges"><rect x="374" y="7" width="8" height="8" fill="url(#gTG)"/><rect x="382" y="7" width="8" height="8" fill="url(#gTB)"/><rect x="374" y="15" width="8" height="8" fill="url(#gTB)"/><rect x="382" y="15" width="8" height="8" fill="url(#gTG)"/><rect x="375" y="10" width="6" height="3" fill="#f2f8ee"/><rect x="383" y="10" width="6" height="3" fill="#eef2fc"/><rect x="375" y="18" width="6" height="3" fill="#eef2fc"/><rect x="383" y="18" width="6" height="3" fill="#f2f8ee"/><rect x="375" y="13" width="1" height="1" fill="#f2f8ee"/><rect x="380" y="13" width="1" height="1" fill="#f2f8ee"/><rect x="383" y="13" width="1" height="1" fill="#eef2fc"/><rect x="388" y="13" width="1" height="1" fill="#eef2fc"/><rect x="375" y="21" width="1" height="1" fill="#eef2fc"/><rect x="380" y="21" width="1" height="1" fill="#eef2fc"/><rect x="383" y="21" width="1" height="1" fill="#f2f8ee"/><rect x="388" y="21" width="1" height="1" fill="#f2f8ee"/><rect x="376" y="11" width="4" height="1" fill="#9ad07c"/><rect x="384" y="11" width="2" height="1" fill="#8aa8f0"/><rect x="387" y="11" width="1" height="1" fill="#8aa8f0"/><rect x="376" y="19" width="2" height="1" fill="#8aa8f0"/><rect x="379" y="19" width="1" height="1" fill="#8aa8f0"/><rect x="384" y="19" width="4" height="1" fill="#9ad07c"/><rect x="375" y="8" width="1" height="1" fill="#cfe8c0"/><rect x="383" y="8" width="1" height="1" fill="#c0d0f8"/><rect x="375" y="16" width="1" height="1" fill="#c0d0f8"/><rect x="383" y="16" width="1" height="1" fill="#cfe8c0"/></g>
<rect x="399" y="4" width="1" height="21" fill="#a0a0a0" shape-rendering="crispEdges"/><rect x="400" y="4" width="1" height="21" fill="#ffffff" shape-rendering="crispEdges"/>
<g shape-rendering="crispEdges"><rect x="404" y="3" width="25" height="22" fill="#f8f8f8"/><rect x="404" y="3" width="25" height="1" fill="#a0a0a0"/><rect x="404" y="3" width="1" height="22" fill="#a0a0a0"/><rect x="404" y="24" width="25" height="1" fill="#ffffff"/><rect x="428" y="3" width="1" height="22" fill="#ffffff"/></g>
<g stroke="#4a4a4a" stroke-width="1.2" fill="none"><path d="M412.4 9.6V22.8M410 20.5H423.2"/></g><polygon points="410.5,11.4 412.4,8.8 414.29999999999995,11.4" fill="#4a4a4a"/><polygon points="421.8,18.6 424.2,20.5 421.8,22.4" fill="#4a4a4a"/>
<polygon points="417.3,11.4 420.6,14.5 417.3,17.7" fill="#84f084" stroke="#14a014" stroke-width="1" stroke-linejoin="round"/>
<g shape-rendering="crispEdges"><rect x="432" y="3" width="25" height="22" fill="#f8f8f8"/><rect x="432" y="3" width="25" height="1" fill="#a0a0a0"/><rect x="432" y="3" width="1" height="22" fill="#a0a0a0"/><rect x="432" y="24" width="25" height="1" fill="#ffffff"/><rect x="456" y="3" width="1" height="22" fill="#ffffff"/></g>
<g stroke="#4a4a4a" stroke-width="1.2" fill="none"><path d="M440.4 9.6V22.8M438 20.5H451.2"/></g><polygon points="438.5,11.4 440.4,8.8 442.29999999999995,11.4" fill="#4a4a4a"/><polygon points="449.8,18.6 452.2,20.5 449.8,22.4" fill="#4a4a4a"/>
<path d="M446.5 9V18.8" stroke="#1a70a8" stroke-width="1.3"/><path d="M452 14.5H447.4M449.4 12.4L447.2 14.5L449.4 16.6" stroke="#d84800" stroke-width="1.2" fill="none"/>
<rect x="461" y="4" width="1" height="21" fill="#a0a0a0" shape-rendering="crispEdges"/><rect x="462" y="4" width="1" height="21" fill="#ffffff" shape-rendering="crispEdges"/>
<g><path d="M472.4 7.4H479.4L482.3 10.3V19.5Q482.3 20.5 481.3 20.5H472.4Q471.4 20.5 471.4 19.5V8.4Q471.4 7.4 472.4 7.4Z" fill="#fdfdfd" stroke="#8e8e8e" stroke-width="0.9"/><path d="M479.4 7.6V10.3H482.2" fill="#dcdcdc" stroke="#8e8e8e" stroke-width="0.7"/><path d="M476.6 10.2Q474.6 10.2 474.8 12V16Q474.8 17.6 476.4 17.6M474.8 13.6H476.6" stroke="#4a4620" stroke-width="0.8" fill="none"/><path d="M479.3 13.2H483.2V17.1H487V21H483.2V24.7H479.3V21H475.2V17.1H479.3Z" fill="url(#gPlus)" stroke="#0c8612" stroke-width="0.9" stroke-linejoin="round"/></g>
<polygon points="492.5,13.9 498.3,13.9 495.4,17.3" fill="#000"/>
<g><circle cx="516.9" cy="15" r="8" fill="url(#gClock)"/><circle cx="516.9" cy="15" r="5.9" fill="#fbfdff"/><path d="M516.5 11.3V15H519.8" stroke="#2a2a2a" stroke-width="1.1" fill="none"/><path d="M516.9 19.6V18.6M513.6 18.3L514.2 17.7M520.2 18.3L519.6 17.7M512.3 15H513.2M521.5 15H520.6M513.6 11.7L514.2 12.3M520.2 11.7L519.6 12.3" stroke="#8a93a8" stroke-width="0.6"/><path d="M516 18.6H518" stroke="#6aa8f0" stroke-width="0.7"/></g>
<polygon points="531.5,13.9 537.3,13.9 534.4,17.3" fill="#000"/>
<g><rect x="548.4" y="8.4" width="15.2" height="13" fill="#ffffff" stroke="#2e72c8" stroke-width="0.9"/><rect x="548.4" y="8.2" width="15.2" height="2.7" fill="#3c80d6"/><rect x="549.4" y="8.8" width="5" height="0.8" fill="#a8ccf4"/><path d="M548.6 16.2H563.4" stroke="#4a86d4" stroke-width="0.8"/><path d="M550.4 14.3L552.4 14.1L554 12.8L555.8 12.6L557.4 13.5L559.2 13.3L560.8 12.3L562 12.2" stroke="#a02412" stroke-width="1.2" fill="none"/><path d="M551 19.5L553 19.2L554.6 18.5L556 19.6L557.6 18.6L558.8 17.4L560 17.6L561.6 19.4" stroke="#149424" stroke-width="1.2" fill="none"/></g>
<polygon points="570.5,13.9 576.3,13.9 573.4,17.3" fill="#000"/>
<rect x="582" y="2" width="1" height="25" fill="#a0a0a0" shape-rendering="crispEdges"/><rect x="583" y="2" width="1" height="25" fill="#ffffff" shape-rendering="crispEdges"/>
<g shape-rendering="crispEdges" fill="#a4a4a4">
<rect x="586" y="5" width="3" height="1"/>
<rect x="586" y="7" width="3" height="1"/>
<rect x="586" y="9" width="3" height="1"/>
<rect x="586" y="11" width="3" height="1"/>
<rect x="586" y="13" width="3" height="1"/>
<rect x="586" y="15" width="3" height="1"/>
<rect x="586" y="17" width="3" height="1"/>
<rect x="586" y="19" width="3" height="1"/>
<rect x="586" y="21" width="3" height="1"/>
<rect x="586" y="23" width="3" height="1"/>
</g>
<g shape-rendering="crispEdges"><rect x="592" y="3" width="25" height="22" fill="#f8f8f8"/><rect x="592" y="3" width="25" height="1" fill="#a0a0a0"/><rect x="592" y="3" width="1" height="22" fill="#a0a0a0"/><rect x="592" y="24" width="25" height="1" fill="#ffffff"/><rect x="616" y="3" width="1" height="22" fill="#ffffff"/></g>
<path d="M600.3 7.9V19.2L603.2 16.8L605.6 22L607.4 21.2L605 16.2L608.3 15.9Z" fill="#444" stroke="#444" stroke-width="0.4" stroke-linejoin="round"/>
<path d="M632.5 8V23M625 15.5H640" stroke="#484848" stroke-width="1" shape-rendering="crispEdges"/><rect x="632" y="15" width="1" height="1" fill="#f0f0f0" shape-rendering="crispEdges"/>
<rect x="649" y="4" width="1" height="21" fill="#a0a0a0" shape-rendering="crispEdges"/><rect x="650" y="4" width="1" height="21" fill="#ffffff" shape-rendering="crispEdges"/>
<path d="M666.5 9V22" stroke="#484848" stroke-width="1" shape-rendering="crispEdges"/>
<path d="M689 15.5H701" stroke="#484848" stroke-width="1" shape-rendering="crispEdges"/>
<path d="M717 21.8L729 10" stroke="#484848" stroke-width="1.1"/>
<g stroke="#484848" stroke-width="0.9" fill="none"><path d="M742.6 16.5L756.2 9.6M743.4 20.9L757.4 13.2M747.4 15.4L745.2 21.4M751.4 12.8L749.2 19.6M755.1 7.4L753.2 16.4"/></g><text x="753.8" y="23.6" font-family="'Liberation Sans',sans-serif" font-size="6.8px" font-weight="bold" fill="#333">E</text>
<g stroke="#555" stroke-width="1" stroke-dasharray="1 1" shape-rendering="crispEdges"><path d="M772 8.5H785M772 11.5H785M772 15.5H785M772 19.5H781"/></g><text x="781.8" y="23.6" font-family="'Liberation Sans',sans-serif" font-size="6.8px" font-weight="bold" fill="#333">F</text>
<text transform="translate(802.7,19.7) scale(0.88,1)" font-family="'Liberation Sans',sans-serif" font-size="12px" font-weight="bold" fill="#585858">A</text>
<rect x="829.5" y="9.5" width="11" height="12" fill="none" stroke="#555" stroke-width="1" stroke-dasharray="1 1" shape-rendering="crispEdges"/><rect x="828" y="8" width="2" height="1" fill="#555" shape-rendering="crispEdges"/><text transform="translate(830.6,19.7) scale(1.1,1)" font-family="'Liberation Sans',sans-serif" font-size="11.4px" font-weight="bold" fill="#555">T</text>
<g fill="#484848"><polygon points="856,11.6 859.6,8.6 863.2,11.6 859.6,13.6"/><polygon points="862.8,18.6 866.4,16.8 870,18.6 866.4,22.2"/><path d="M858.3 16.6L860.6 18.7L866 13.2" stroke="#484848" stroke-width="1.3" fill="none"/></g>
<polygon points="876.5,13.7 882.3,13.7 879.4,17.099999999999998" fill="#000"/>
<rect x="888" y="2" width="1" height="25" fill="#a0a0a0" shape-rendering="crispEdges"/><rect x="889" y="2" width="1" height="25" fill="#ffffff" shape-rendering="crispEdges"/>
<g shape-rendering="crispEdges" fill="#a4a4a4">
<rect x="892" y="5" width="3" height="1"/>
<rect x="892" y="7" width="3" height="1"/>
<rect x="892" y="9" width="3" height="1"/>
<rect x="892" y="11" width="3" height="1"/>
<rect x="892" y="13" width="3" height="1"/>
<rect x="892" y="15" width="3" height="1"/>
<rect x="892" y="17" width="3" height="1"/>
<rect x="892" y="19" width="3" height="1"/>
<rect x="892" y="21" width="3" height="1"/>
<rect x="892" y="23" width="3" height="1"/>
</g>
<g shape-rendering="crispEdges"><rect x="1038" y="3" width="25" height="22" fill="#f8f8f8"/><rect x="1038" y="3" width="25" height="1" fill="#a0a0a0"/><rect x="1038" y="3" width="1" height="22" fill="#a0a0a0"/><rect x="1038" y="24" width="25" height="1" fill="#ffffff"/><rect x="1062" y="3" width="1" height="22" fill="#ffffff"/></g>
<g font-family="'Liberation Sans',sans-serif" fill="#303030" text-rendering="geometricPrecision" stroke="#303030" stroke-width="0.1">
<text transform="translate(903.4,19) scale(0.915,1)" font-size="10px">M1</text>
<text transform="translate(931.5,19) scale(0.915,1)" font-size="10px">M5</text>
<text transform="translate(957.3,19) scale(0.915,1)" font-size="10px">M15</text>
<text transform="translate(985.3,19) scale(0.915,1)" font-size="10px">M30</text>
<text transform="translate(1016.5,19) scale(0.915,1)" font-size="10px">H1</text>
<text transform="translate(1043.4,19) scale(0.915,1)" font-size="10px">H4</text>
<text transform="translate(1072.8,19) scale(0.915,1)" font-size="10px">D1</text>
<text transform="translate(1100,19) scale(0.915,1)" font-size="10px">W1</text>
<text transform="translate(1127,19) scale(0.915,1)" font-size="10px">MN</text>
</g>
<rect x="1149" y="3" width="1" height="23" fill="#a0a0a0" shape-rendering="crispEdges"/><rect x="1150" y="3" width="1" height="23" fill="#ffffff" shape-rendering="crispEdges"/>
<g><path d="M1612.2 19.6L1616.8 15.4" stroke="#2c5ccc" stroke-width="2.4" stroke-linecap="round"/><circle cx="1619.6" cy="12.7" r="3.7" fill="#fbfcff" stroke="#3a66d8" stroke-width="1.3"/></g>
<g><path d="M1636.5 17.3C1636.5 13.6 1640 12.2 1643 12.2C1646.5 12.2 1648.5 14.5 1648.5 17C1648.5 19.6 1645.5 21.2 1642.5 21L1639.2 23.4L1639.8 20.6C1637.8 20 1636.5 18.9 1636.5 17.3Z" fill="#e9ebf2" stroke="#b9bcc6" stroke-width="0.8"/><circle cx="1650.8" cy="12.4" r="8.1" fill="url(#gBadge)"/><text x="1647.4" y="16.8" font-family="'Liberation Sans',sans-serif" font-size="12.5px" fill="#fff">1</text></g>
</svg>
</body>
</html>
